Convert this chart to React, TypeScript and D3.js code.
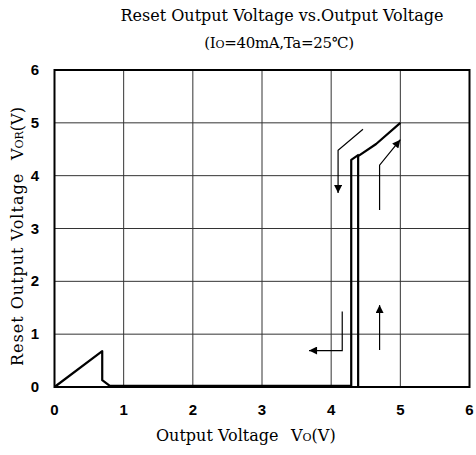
import * as d3 from "d3";
import { useEffect, useRef } from "react";

// x / y ticks
const xTicks = [0, 1, 2, 3, 4, 5, 6];
const yTicks = [0, 1, 2, 3, 4, 5, 6];

// low-voltage region (Vo rising from 0)
const lowX = [0, 0.69, 0.69, 0.8, 4.29];
const lowY = [0, 0.68, 0.13, 0.02, 0.02];

// falling branch (left vertical)
const fallX = [4.29, 4.29, 4.4];
const fallY = [0, 4.3, 4.4];

// rising branch (right vertical) up to 5V
const riseX = [4.39, 4.39, 4.65, 5.0];
const riseY = [0, 4.37, 4.6, 5.0];

// direction arrows: polyline points, last one is the tip
const arrows: [number, number][][] = [
  [[4.46, 4.88], [4.1, 4.48], [4.1, 3.67]],
  [[4.7, 3.35], [4.7, 4.2], [5.0, 4.68]],
  [[4.7, 0.7], [4.7, 1.55]],
  [[4.16, 1.43], [4.16, 0.69], [3.68, 0.69]],
];

const App = () => {
  const svgRef = useRef<SVGSVGElement | null>(null);

  useEffect(() => {
    const svg = d3.select(svgRef.current);
    svg.selectAll("*").remove();

    const x = d3.scaleLinear().domain([0, 6]).range([54.5, 469.5]);
    const y = d3.scaleLinear().domain([0, 6]).range([387, 70]);

    // arrow marker
    svg
      .append("defs")
      .append("marker")
      .attr("id", "ah")
      .attr("viewBox", "0 0 10 10")
      .attr("refX", 10)
      .attr("refY", 5)
      .attr("markerWidth", 15)
      .attr("markerHeight", 8)
      .attr("markerUnits", "userSpaceOnUse")
      .attr("orient", "auto")
      .append("path")
      .attr("d", "M0,0L10,5L0,10Z")
      .attr("fill", "#000");

    // grid
    const g = svg.append("g");
    g.selectAll(".gx")
      .data(xTicks.slice(1, -1))
      .join("line")
      .attr("x1", (d) => x(d))
      .attr("x2", (d) => x(d))
      .attr("y1", y(0))
      .attr("y2", y(6))
      .attr("stroke", "#333")
      .attr("stroke-width", 1);
    g.selectAll(".gy")
      .data(yTicks.slice(1, -1))
      .join("line")
      .attr("x1", x(0))
      .attr("x2", x(6))
      .attr("y1", (d) => y(d))
      .attr("y2", (d) => y(d))
      .attr("stroke", "#333")
      .attr("stroke-width", 1);

    // frame
    g.append("rect")
      .attr("x", x(0))
      .attr("y", y(6))
      .attr("width", x(6) - x(0))
      .attr("height", y(0) - y(6))
      .attr("fill", "none")
      .attr("stroke", "#000")
      .attr("stroke-width", 2);

    // tick labels
    const sans = "Liberation Sans, Arial, sans-serif";
    g.selectAll(".tx")
      .data(xTicks)
      .join("text")
      .attr("x", (d) => x(d))
      .attr("y", 415)
      .attr("text-anchor", "middle")
      .attr("font-family", sans)
      .attr("font-weight", "bold")
      .attr("font-size", 15)
      .text((d) => d);
    g.selectAll(".ty")
      .data(yTicks)
      .join("text")
      .attr("x", 39)
      .attr("y", (d) => y(d) + 5)
      .attr("text-anchor", "end")
      .attr("font-family", sans)
      .attr("font-weight", "bold")
      .attr("font-size", 15)
      .text((d) => d);

    // curves
    const line = d3
      .line<[number, number]>()
      .x((d) => x(d[0]))
      .y((d) => y(d[1]));
    const series = [
      d3.zip(lowX, lowY),
      d3.zip(fallX, fallY),
      d3.zip(riseX, riseY),
    ] as [number, number][][];
    g.selectAll(".curve")
      .data(series)
      .join("path")
      .attr("d", (d) => line(d))
      .attr("fill", "none")
      .attr("stroke", "#000")
      .attr("stroke-width", 2.2)
      .attr("stroke-linejoin", "round");

    g.selectAll(".arrow")
      .data(arrows)
      .join("path")
      .attr("d", (d) => line(d))
      .attr("fill", "none")
      .attr("stroke", "#000")
      .attr("stroke-width", 1.2)
      .attr("marker-end", "url(#ah)");

    // titles
    const serif = "DejaVu Serif, serif";
    svg
      .append("text")
      .attr("x", 282)
      .attr("y", 21)
      .attr("text-anchor", "middle")
      .attr("font-family", serif)
      .attr("font-size", 16)
      .text("Reset Output Voltage vs.Output Voltage");
    const sub = svg
      .append("text")
      .attr("x", 279)
      .attr("y", 48)
      .attr("text-anchor", "middle")
      .attr("font-family", serif)
      .attr("font-size", 15)
      .attr("letter-spacing", -0.3);
    sub.append("tspan").text("(I");
    sub.append("tspan").attr("font-size", 11).text("O");
    sub.append("tspan").text("=40mA,Ta=25℃)");

    const xl = svg
      .append("text")
      .attr("y", 441)
      .attr("font-family", serif)
      .attr("font-size", 16);
    xl.append("tspan").attr("x", 156).text("Output Voltage");
    xl.append("tspan").attr("x", 291).text("V");
    xl.append("tspan").attr("font-size", 11).text("O");
    xl.append("tspan").text("(V)");

    const yl = svg
      .append("text")
      .attr("transform", "translate(23,0) rotate(-90)")
      .attr("font-family", serif)
      .attr("font-size", 16);
    yl.append("tspan")
      .attr("x", -366)
      .attr("letter-spacing", 1)
      .text("Reset Output Voltage");
    yl.append("tspan").attr("x", -160).text("V");
    yl.append("tspan").attr("font-size", 11).text("OR");
    yl.append("tspan").text("(V)");
  }, []);

  return (
    <svg
      ref={svgRef}
      width={476}
      height={455}
      style={{ position: "absolute", left: 0, top: 0, background: "#fff" }}
    />
  );
};

export default App;
